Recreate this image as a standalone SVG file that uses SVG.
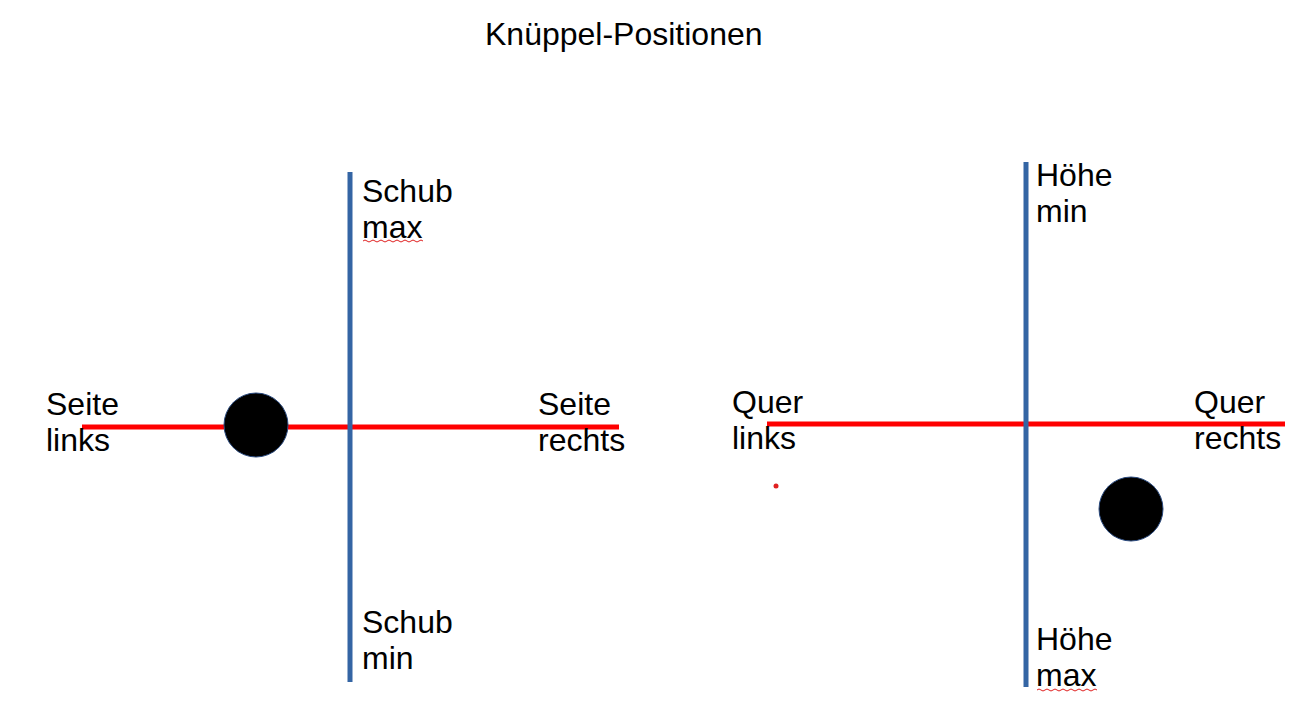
<svg xmlns="http://www.w3.org/2000/svg" width="1311" height="709" viewBox="0 0 1311 709">
<style>
text{font-family:"Liberation Sans",Arial,sans-serif;font-size:32px;fill:#000}
.ax{stroke:#3465a4;stroke-width:5}
.rd{stroke:#ff0000;stroke-width:5}
.knob{fill:#000;stroke:#2a4a7f;stroke-width:1}
.sq{fill:none;stroke:#e02020;stroke-width:1}
</style>
<rect width="1311" height="709" fill="#fff"/>
<text id="title" x="485" y="45">Knüppel-Positionen</text>
<g id="connectors">
<line class="rd" x1="82" y1="427" x2="619" y2="427"/>
<line class="ax" x1="350" y1="172" x2="350" y2="682"/>
<line class="rd" x1="767" y1="424" x2="1285" y2="424"/>
<line class="ax" x1="1026" y1="162" x2="1026" y2="687"/>
</g>
<g id="left-stick"><circle class="knob" cx="256" cy="425" r="32"/></g>
<g id="right-stick"><circle class="knob" cx="1131" cy="509" r="32"/></g>
<g id="dot"><circle cx="776" cy="486" r="2.5" fill="#e02020"/></g>
<g id="schub-max"><text x="362" y="202">Schub</text><text x="362" y="238">max</text>
<path class="sq" d="M363,241 q2,-2 4,0 t4,0 t4,0 t4,0 t4,0 t4,0 t4,0 t4,0 t4,0 t4,0 t4,0 t4,0 t4,0 t4,0 t4,0"/></g>
<g id="schub-min"><text x="362" y="633">Schub</text><text x="362" y="669">min</text></g>
<g id="seite-links"><text x="46" y="415">Seite</text><text x="46" y="451">links</text></g>
<g id="seite-rechts"><text x="538" y="415">Seite</text><text x="538" y="451">rechts</text></g>
<g id="quer-links"><text x="732" y="413">Quer</text><text x="732" y="449">links</text></g>
<g id="quer-rechts"><text x="1194" y="413">Quer</text><text x="1194" y="449">rechts</text></g>
<g id="hoehe-min"><text x="1036" y="186">Höhe</text><text x="1036" y="222">min</text></g>
<g id="hoehe-max"><text x="1036" y="650">Höhe</text><text x="1036" y="686">max</text>
<path class="sq" d="M1037,690 q2,-2 4,0 t4,0 t4,0 t4,0 t4,0 t4,0 t4,0 t4,0 t4,0 t4,0 t4,0 t4,0 t4,0 t4,0 t4,0"/></g>
</svg>
